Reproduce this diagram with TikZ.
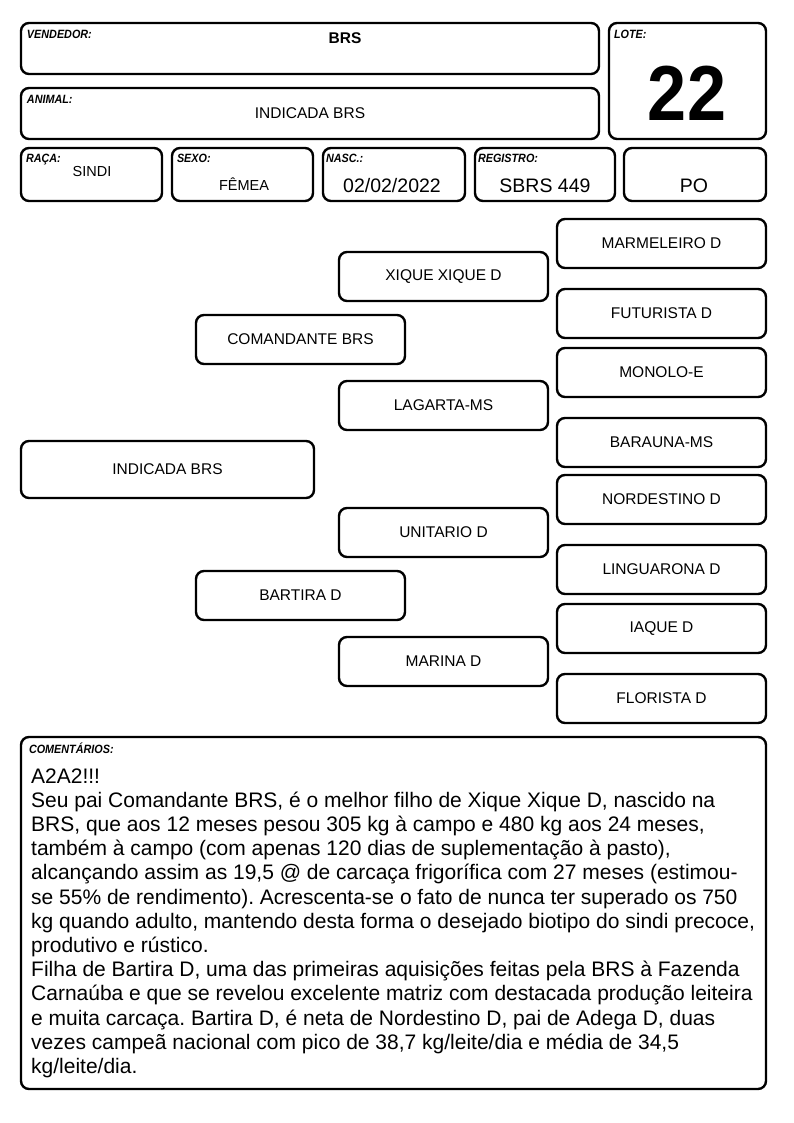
\documentclass[tikz,border=0pt]{standalone}
\usepackage{fontspec}
\setmainfont{Liberation Sans}
\newfontfamily\rotulofont[FakeStretch=0.9]{Liberation Sans}
\newfontfamily\numerofont[FakeStretch=0.9]{Liberation Sans}
\usetikzlibrary{positioning}
\frenchspacing
\tikzstyle{caixa} = [rectangle, draw, line width=2.4pt, rounded corners=8pt, inner sep=0pt]
\tikzstyle{gen} = [caixa, minimum width=209pt, minimum height=49pt,
font=\fontsize{15.5}{18}\selectfont]
\tikzstyle{rotulo} = [anchor=north west, inner sep=0pt,
font=\rotulofont\fontsize{12}{14}\selectfont\bfseries\itshape]
\tikzstyle{valor} = [inner sep=0pt, font=\fontsize{14.5}{17}\selectfont]
\tikzstyle{valorg} = [inner sep=0pt, font=\fontsize{19.5}{22}\selectfont]

\begin{document}
\begin{tikzpicture}[x=1pt, y=-1pt]
	\useasboundingbox (0,0) rectangle (794,1123);
	% cabecalho
	\node (Vendedor) [caixa, minimum width=578pt, minimum height=51pt] at (310,48.5) {};
	\node (Lote) [caixa, minimum width=157pt, minimum height=116pt] at (687.5,81) {};
	\node (Animal) [caixa, minimum width=578pt, minimum height=51pt] at (310,113.5) {};
	\node (Raca) [caixa, minimum width=141pt, minimum height=53pt] at (91.5,174.5) {};
	\node (Sexo) [caixa, minimum width=141pt, minimum height=53pt] at (242.5,174.5) {};
	\node (Nasc) [caixa, minimum width=142pt, minimum height=53pt] at (394,174.5) {};
	\node (Registro) [caixa, minimum width=140pt, minimum height=53pt] at (545,174.5) {};
	\node (Categoria) [caixa, minimum width=142pt, minimum height=53pt] at (695,174.5) {};

	\node [rotulo] at ([shift={(7,8.5)}]Vendedor.north west) {VENDEDOR:};
	\node [rotulo] at ([shift={(6,8.5)}]Lote.north west) {LOTE:};
	\node [rotulo] at ([shift={(7,8.5)}]Animal.north west) {ANIMAL:};
	\node [rotulo] at ([shift={(6,7)}]Raca.north west) {RAÇA:};
	\node [rotulo] at ([shift={(6,7)}]Sexo.north west) {SEXO:};
	\node [rotulo] at ([shift={(4,7)}]Nasc.north west) {NASC.:};
	\node [rotulo] at ([shift={(4,7)}]Registro.north west) {REGISTRO:};

	\node [valor, font=\bfseries\fontsize{15.5}{18}\selectfont] at (345,38) {BRS};
	\node [inner sep=0pt, font=\numerofont\bfseries\fontsize{78}{80}\selectfont] at (687,93) {22};
	\node [valor, font=\fontsize{15.5}{18}\selectfont] at (310,113) {INDICADA BRS};
	\node [valor] at (92,172) {SINDI};
	\node [valor] at (244,184) {FÊMEA};
	\node [valorg] at (392,186) {02/02/2022};
	\node [valorg] at (545,186) {SBRS 449};
	\node [valorg] at (694,186) {PO};

	% genealogia
	\node (Indicada) [gen, minimum width=293pt, minimum height=57pt] at (167.5,469.5) {INDICADA BRS};
	\node (Comandante) [gen] at (300.5,339.5) {COMANDANTE BRS};
	\node (Bartira) [gen] at (300.5,595.5) {BARTIRA D};
	\node (Xique) [gen] at (443.5,276.5) {XIQUE XIQUE D};
	\node (Lagarta) [gen] at (443.5,405.5) {LAGARTA-MS};
	\node (Unitario) [gen] at (443.5,532.5) {UNITARIO D};
	\node (Marina) [gen] at (443.5,661.5) {MARINA D};
	\node (Marmeleiro) [gen] at (661.5,243.5) {MARMELEIRO D};
	\node (Futurista) [gen] at (661.5,313.5) {FUTURISTA D};
	\node (Monolo) [gen] at (661.5,372.5) {MONOLO-E};
	\node (Barauna) [gen] at (661.5,442.5) {BARAUNA-MS};
	\node (Nordestino) [gen] at (661.5,499.5) {NORDESTINO D};
	\node (Linguarona) [gen] at (661.5,569.5) {LINGUARONA D};
	\node (Iaque) [gen] at (661.5,628.5) {IAQUE D};
	\node (Florista) [gen] at (661.5,698.5) {FLORISTA D};

	% comentarios
	\node (Comentarios) [caixa, minimum width=745pt, minimum height=352pt] at (393.5,913) {};
	\node [rotulo] at ([shift={(9,7)}]Comentarios.north west) {COMENTÁRIOS:};
	\node [anchor=base west, inner sep=0pt, align=left, font=\fontsize{21}{24.2}\selectfont] at (31,1073.4)
	{A2A2!!!\\
	Seu pai Comandante BRS, é o melhor filho de Xique Xique D, nascido na\\
	BRS, que aos 12 meses pesou 305 kg à campo e 480 kg aos 24 meses,\\
	também à campo (com apenas 120 dias de suplementação à pasto),\\
	alcançando assim as 19,5 @ de carcaça frigorífica com 27 meses (estimou-\\
	se 55\% de rendimento). Acrescenta-se o fato de nunca ter superado os 750\\
	kg quando adulto, mantendo desta forma o desejado biotipo do sindi precoce,\\
	produtivo e rústico.\\
	Filha de Bartira D, uma das primeiras aquisições feitas pela BRS à Fazenda\\
	Carnaúba e que se revelou excelente matriz com destacada produção leiteira\\
	e muita carcaça. Bartira D, é neta de Nordestino D, pai de Adega D, duas\\
	vezes campeã nacional com pico de 38,7 kg/leite/dia e média de 34,5\\
	kg/leite/dia.};
\end{tikzpicture}
\end{document}
